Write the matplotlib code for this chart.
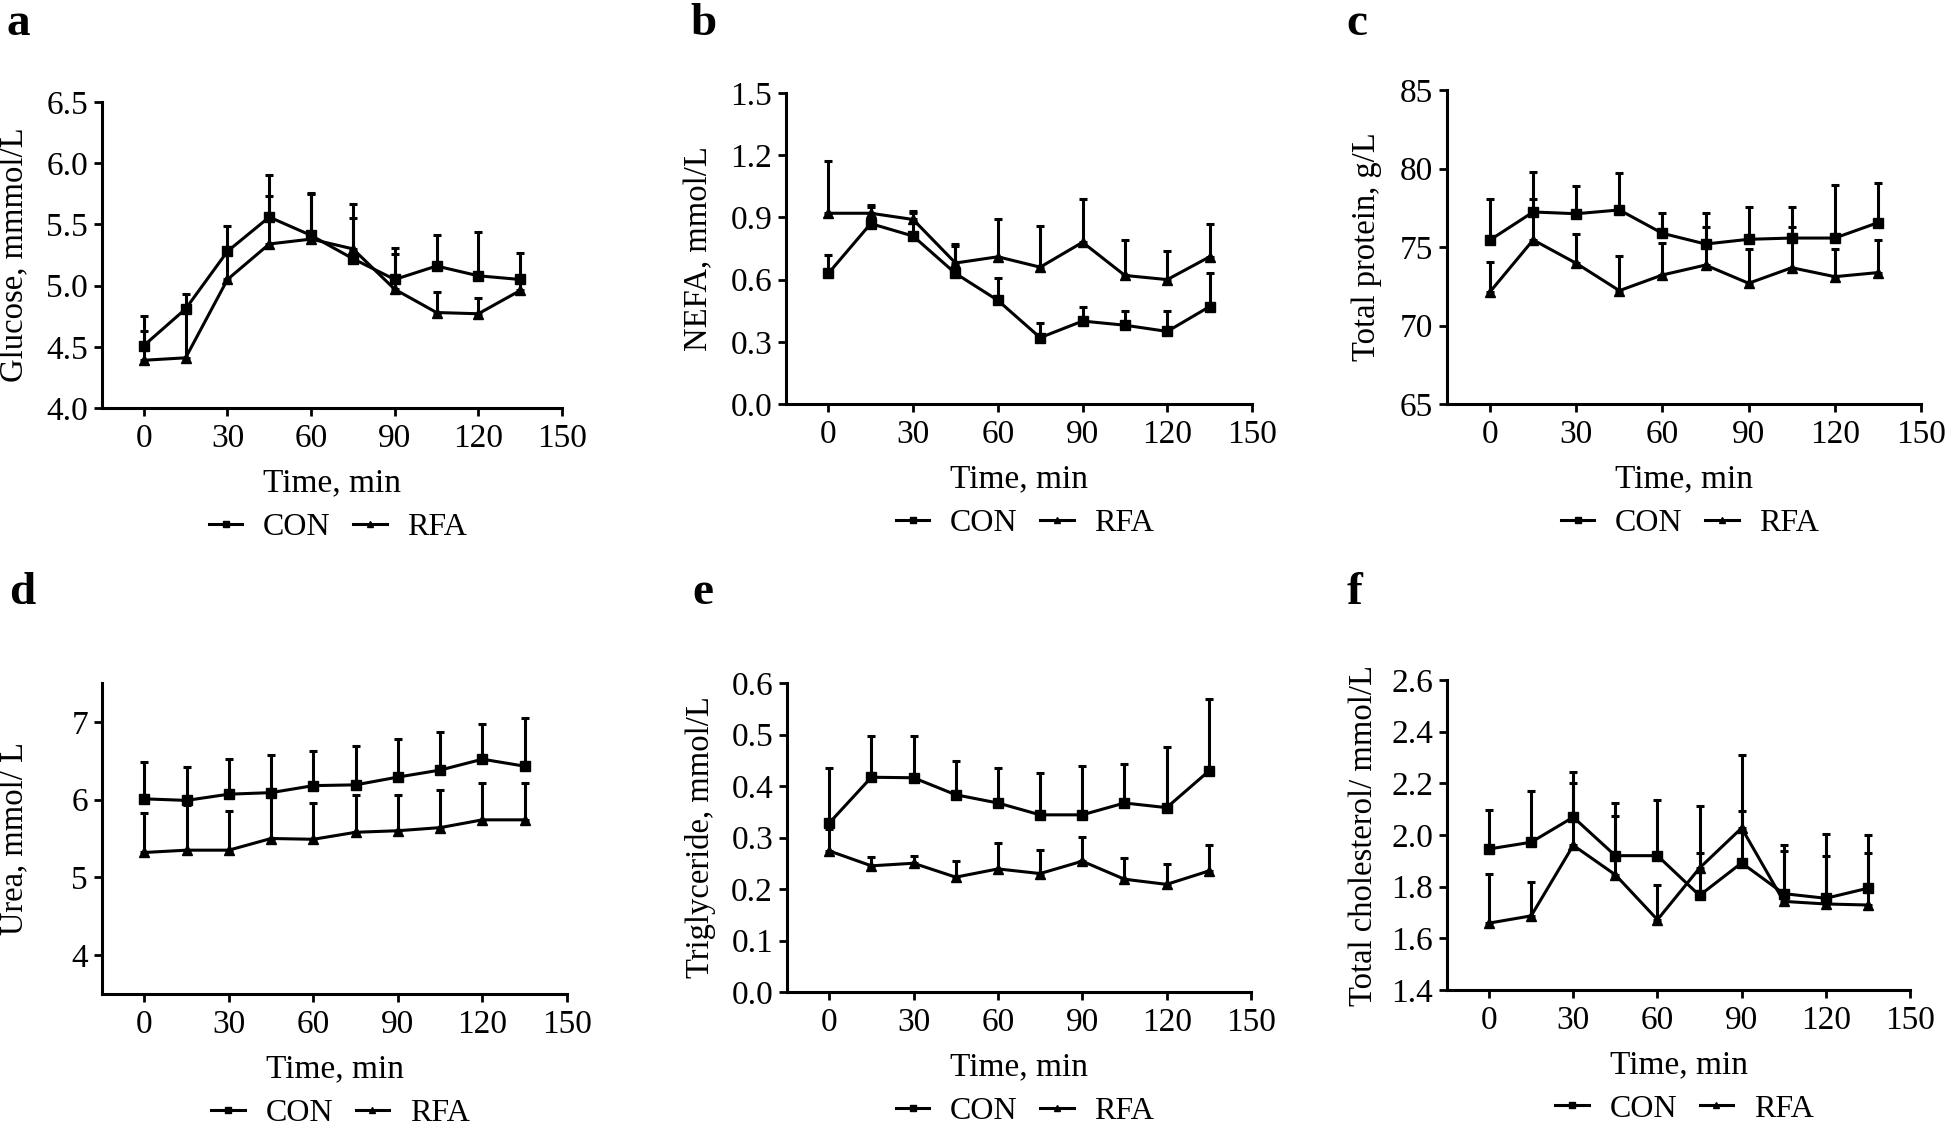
import matplotlib
matplotlib.use('Agg')
import matplotlib.pyplot as plt
import numpy as np

plt.rcParams['font.family'] = ['Liberation Serif', 'DejaVu Serif']

# time points (min)
time = [0, 15, 30, 45, 60, 75, 90, 105, 120, 135]
x_ticks = [0, 30, 60, 90, 120, 150]

# a - glucose
glu_con = [4.51, 4.81, 5.28, 5.56, 5.41, 5.22, 5.05, 5.16, 5.08, 5.05]
glu_con_up = [4.75, 4.93, 5.49, 5.90, 5.76, 5.55, 5.31, 5.41, 5.44, 5.27]
glu_rfa = [4.39, 4.41, 5.05, 5.34, 5.38, 5.30, 4.97, 4.78, 4.77, 4.96]
glu_rfa_up = [4.63, 4.80, 5.26, 5.73, 5.75, 5.67, 5.26, 4.95, 4.90, 5.04]

# b - NEFA
nefa_con = [0.63, 0.87, 0.81, 0.63, 0.50, 0.32, 0.40, 0.38, 0.35, 0.47]
nefa_con_up = [0.72, 0.95, 0.93, 0.77, 0.61, 0.39, 0.47, 0.45, 0.45, 0.63]
nefa_rfa = [0.92, 0.92, 0.89, 0.68, 0.71, 0.66, 0.78, 0.62, 0.60, 0.71]
nefa_rfa_up = [1.17, 0.96, 0.92, 0.76, 0.89, 0.86, 0.99, 0.79, 0.74, 0.87]

# c - total protein
tp_con = [75.45, 77.23, 77.12, 77.36, 75.87, 75.19, 75.49, 75.57, 75.57, 76.55]
tp_con_up = [78.06, 79.80, 78.89, 79.69, 77.19, 77.19, 77.57, 77.57, 78.95, 79.06]
tp_rfa = [72.15, 75.45, 73.96, 72.22, 73.22, 73.85, 72.69, 73.68, 73.11, 73.37]
tp_rfa_up = [74.07, 78.04, 75.81, 74.43, 75.28, 76.30, 74.87, 76.30, 74.87, 75.45]

# d - urea
urea_con = [6.01, 5.99, 6.07, 6.09, 6.18, 6.19, 6.29, 6.38, 6.52, 6.43]
urea_con_up = [6.48, 6.42, 6.52, 6.58, 6.62, 6.69, 6.78, 6.87, 6.97, 7.05]
urea_rfa = [5.32, 5.35, 5.35, 5.50, 5.49, 5.58, 5.60, 5.64, 5.74, 5.74]
urea_rfa_up = [5.83, 5.93, 5.85, 6.05, 5.96, 6.06, 6.06, 6.13, 6.22, 6.22]

# e - triglyceride
tg_con = [0.328, 0.417, 0.416, 0.383, 0.367, 0.344, 0.344, 0.367, 0.358, 0.429]
tg_con_up = [0.435, 0.497, 0.497, 0.449, 0.435, 0.425, 0.439, 0.443, 0.476, 0.568]
tg_rfa = [0.274, 0.245, 0.250, 0.223, 0.239, 0.230, 0.254, 0.219, 0.209, 0.235]
tg_rfa_up = [0.317, 0.262, 0.265, 0.254, 0.290, 0.276, 0.301, 0.261, 0.248, 0.285]

# f - total cholesterol
tc_con = [1.946, 1.972, 2.069, 1.920, 1.920, 1.766, 1.892, 1.773, 1.755, 1.794]
tc_con_up = [2.095, 2.172, 2.243, 2.124, 2.137, 2.111, 2.092, 1.960, 2.005, 2.000]
tc_rfa = [1.659, 1.687, 1.960, 1.846, 1.672, 1.872, 2.027, 1.743, 1.733, 1.729]
tc_rfa_up = [1.849, 1.818, 2.200, 2.075, 1.805, 1.930, 2.309, 1.937, 1.920, 1.930]

W, H = 1946, 1128
fig = plt.figure(figsize=(W / 100, H / 100), dpi=100)


def make_axes(left, top, right, bottom):
    return fig.add_axes([left / W, 1 - bottom / H, (right - left) / W, (bottom - top) / H])


def draw_panel(ax, con, con_up, rfa, rfa_up, ylim, yticks, fmt, ylabel, ylab_off=87):
    con = np.array(con)
    rfa = np.array(rfa)
    lw = 2.2
    ax.errorbar(time, con, yerr=[np.zeros(len(con)), np.array(con_up) - con], fmt='none',
                ecolor='k', elinewidth=lw, capsize=3, capthick=lw, clip_on=False)
    ax.errorbar(time, rfa, yerr=[np.zeros(len(rfa)), np.array(rfa_up) - rfa], fmt='none',
                ecolor='k', elinewidth=lw, capsize=3, capthick=lw, clip_on=False)
    l1, = ax.plot(time, con, '-s', color='k', lw=lw, ms=7.5, label='CON', clip_on=False)
    l2, = ax.plot(time, rfa, '-^', color='k', lw=lw, ms=7.5, label='RFA', clip_on=False)

    ax.set_xlim(-15, 150)
    ax.set_ylim(*ylim)
    ax.set_xticks(x_ticks)
    ax.set_yticks(yticks)
    ax.set_yticklabels([fmt % v for v in yticks])
    for s in ['top', 'right']:
        ax.spines[s].set_visible(False)
    for s in ['left', 'bottom']:
        ax.spines[s].set_linewidth(2.2)
    ax.tick_params(direction='out', length=6, width=2, labelsize=24, pad=4)
    ax.tick_params(axis='x', pad=5)

    h_px = ax.get_position().height * H
    w_px = ax.get_position().width * W
    ax.set_xlabel('Time, min', fontsize=24, va='center')
    ax.xaxis.set_label_coords(0.5, -75 / h_px)
    ax.set_ylabel(ylabel, fontsize=23.5, va='center')
    ax.yaxis.set_label_coords(-ylab_off / w_px, 0.5)

    ax.legend([l1, l2], ['CON', 'RFA'], loc='center', bbox_to_anchor=(0.5 + 6 / w_px, -119 / h_px),
              ncol=2, frameon=False, fontsize=23, handlelength=1.05, handletextpad=0.65,
              columnspacing=0.7, markerscale=0.65, borderpad=0, borderaxespad=0)


ax_a = make_axes(102, 102, 562, 408)
draw_panel(ax_a, glu_con, glu_con_up, glu_rfa, glu_rfa_up, (4.0, 6.5),
           [4.0, 4.5, 5.0, 5.5, 6.0, 6.5], '%.1f', 'Glucose, mmmol/L')

ax_b = make_axes(786, 93, 1252, 404)
draw_panel(ax_b, nefa_con, nefa_con_up, nefa_rfa, nefa_rfa_up, (0.0, 1.5),
           [0.0, 0.3, 0.6, 0.9, 1.2, 1.5], '%.1f', 'NEFA, mmol/L')

ax_c = make_axes(1447, 90, 1921, 404)
draw_panel(ax_c, tp_con, tp_con_up, tp_rfa, tp_rfa_up, (65, 85),
           [65, 70, 75, 80, 85], '%d', 'Total protein, g/L', ylab_off=80)

ax_d = make_axes(102, 683, 567, 994)
draw_panel(ax_d, urea_con, urea_con_up, urea_rfa, urea_rfa_up, (3.5, 7.5),
           [4, 5, 6, 7], '%d', 'Urea, mmol/ L')

ax_e = make_axes(787, 683, 1251, 992)
draw_panel(ax_e, tg_con, tg_con_up, tg_rfa, tg_rfa_up, (0.0, 0.6),
           [0.0, 0.1, 0.2, 0.3, 0.4, 0.5, 0.6], '%.1f', 'Triglyceride, mmol/L')

ax_f = make_axes(1447, 680, 1910, 990)
draw_panel(ax_f, tc_con, tc_con_up, tc_rfa, tc_rfa_up, (1.4, 2.6),
           [1.4, 1.6, 1.8, 2.0, 2.2, 2.4, 2.6], '%.1f', 'Total cholesterol/ mmol/L', ylab_off=83)

# panel letters
for letter, x, y in [('a', 7, 35), ('b', 690, 35), ('c', 1346, 35),
                     ('d', 9, 604), ('e', 692, 604), ('f', 1347, 604)]:
    fig.text(x / W, 1 - y / H, letter, fontsize=34, fontweight='bold', ha='left', va='baseline')

plt.savefig('out.png', dpi=100)
